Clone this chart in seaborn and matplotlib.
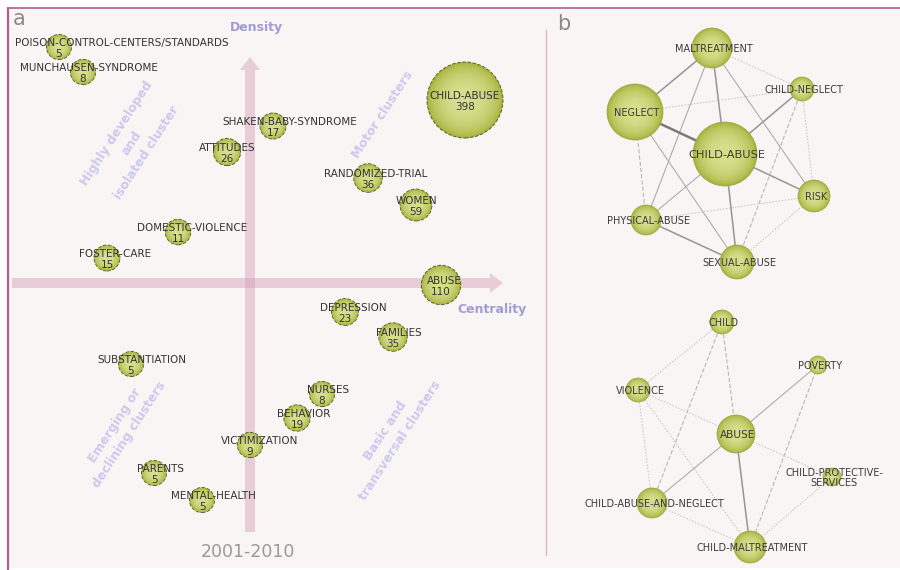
import numpy as np
import pandas as pd
import matplotlib
matplotlib.use("Agg")
import matplotlib.pyplot as plt
from matplotlib.colors import PowerNorm, to_rgb
from matplotlib.patches import FancyArrow, Rectangle
import seaborn as sns

sns.set_theme(style="white")
plt.rcParams['font.family'] = ['DejaVu Sans']

# ---- panel a: strategic diagram 2001-2010 (positions, px)
themes = ["POISON-CONTROL-CENTERS/STANDARDS", "MUNCHAUSEN-SYNDROME", "SHAKEN-BABY-SYNDROME",
          "ATTITUDES", "CHILD-ABUSE", "RANDOMIZED-TRIAL", "WOMEN", "DOMESTIC-VIOLENCE",
          "FOSTER-CARE", "SUBSTANTIATION", "ABUSE", "DEPRESSION", "FAMILIES", "NURSES",
          "BEHAVIOR", "VICTIMIZATION", "PARENTS", "MENTAL-HEALTH"]
centrality = [59, 83, 273, 227, 465, 368, 416, 178, 107, 131, 441, 345, 393, 322, 297, 250, 154, 202]
density = [47, 72, 126, 152, 100, 178, 205, 232, 258, 364, 285, 312, 337, 394, 418, 445, 473, 500]
docs = [5, 8, 17, 26, 398, 36, 59, 11, 15, 5, 110, 23, 35, 8, 19, 9, 5, 5]

# ---- panel b: thematic networks of CHILD-ABUSE and ABUSE
net_nodes = ["MALTREATMENT", "CHILD-NEGLECT", "NEGLECT", "CHILD-ABUSE", "RISK",
             "PHYSICAL-ABUSE", "SEXUAL-ABUSE",
             "CHILD", "POVERTY", "VIOLENCE", "ABUSE", "CHILD-PROTECTIVE-\nSERVICES",
             "CHILD-ABUSE-AND-NEGLECT", "CHILD-MALTREATMENT"]
net_x = [712, 802, 635, 725, 814, 646, 737, 722, 818, 638, 736, 832, 652, 750]
net_y = [48, 89, 112, 154, 196, 220, 262, 322, 365, 390, 434, 477, 503, 547]
net_freq = [400, 144, 784, 1024, 256, 225, 289, 144, 81, 144, 361, 81, 225, 256]

net_edges = [
    ("MALTREATMENT", "NEGLECT", "medium"), ("MALTREATMENT", "CHILD-ABUSE", "medium"),
    ("MALTREATMENT", "PHYSICAL-ABUSE", "weak"), ("MALTREATMENT", "RISK", "weak"),
    ("MALTREATMENT", "CHILD-NEGLECT", "dotted"), ("NEGLECT", "CHILD-ABUSE", "strong"),
    ("NEGLECT", "CHILD-NEGLECT", "dotted"), ("NEGLECT", "PHYSICAL-ABUSE", "dashed"),
    ("NEGLECT", "SEXUAL-ABUSE", "weak"), ("CHILD-ABUSE", "CHILD-NEGLECT", "medium"),
    ("CHILD-ABUSE", "RISK", "medium"), ("CHILD-ABUSE", "PHYSICAL-ABUSE", "weak"),
    ("CHILD-ABUSE", "SEXUAL-ABUSE", "medium"), ("CHILD-NEGLECT", "RISK", "dotted"),
    ("CHILD-NEGLECT", "SEXUAL-ABUSE", "dashed"), ("RISK", "PHYSICAL-ABUSE", "dotted"),
    ("RISK", "SEXUAL-ABUSE", "dotted"), ("PHYSICAL-ABUSE", "SEXUAL-ABUSE", "medium"),
    ("CHILD", "VIOLENCE", "dotted"), ("CHILD", "ABUSE", "dashed"),
    ("CHILD", "CHILD-ABUSE-AND-NEGLECT", "dashed"), ("VIOLENCE", "ABUSE", "dotted"),
    ("VIOLENCE", "CHILD-ABUSE-AND-NEGLECT", "dotted"), ("VIOLENCE", "CHILD-MALTREATMENT", "dotted"),
    ("POVERTY", "ABUSE", "weak"), ("POVERTY", "CHILD-MALTREATMENT", "dashed"),
    ("ABUSE", "CHILD-PROTECTIVE-\nSERVICES", "dotted"), ("ABUSE", "CHILD-ABUSE-AND-NEGLECT", "weak"),
    ("ABUSE", "CHILD-MALTREATMENT", "medium"),
    ("CHILD-PROTECTIVE-\nSERVICES", "CHILD-MALTREATMENT", "dotted"),
    ("CHILD-ABUSE-AND-NEGLECT", "CHILD-MALTREATMENT", "dotted"),
]

# label layout (not data)
name_dx = [63, 6, 17, 0, 0, 8, 0, 14, 8, 11, 3, 8, 6, 6, 7, 10, 6, 11]
edge_style = {"strong": dict(lw=1.8, color="#7a7a7a", ls="-"),
              "medium": dict(lw=1.1, color="#959595", ls="-"),
              "weak": dict(lw=0.75, color="#a8a8a8", ls="-"),
              "dashed": dict(lw=0.75, color="#b2b2b2", ls=(0, (4, 2))),
              "dotted": dict(lw=0.75, color="#c6c6c6", ls=(0, (1.5, 1.5)))}

fig = plt.figure(figsize=(9, 5.7), dpi=100)
fig.patch.set_facecolor("white")
ax = fig.add_axes([0, 0, 1, 1])
ax.axis("off")

ax.add_patch(Rectangle((8, 8), 892, 560, facecolor="#f9f5f4", edgecolor="none", zorder=0))
ax.plot([8, 900], [8, 8], color="#b45c92", lw=1.2, zorder=1)
ax.plot([8, 8], [8, 570], color="#b45c92", lw=1.6, zorder=1)
ax.plot([546, 546], [30, 555], color="#dcb6c8", lw=1.0, zorder=1)

# quadrant axes
arrow_kw = dict(width=10, head_width=20, head_length=13, length_includes_head=True,
                color="#d9a4bb", alpha=0.5, lw=0, zorder=1)
ax.add_patch(FancyArrow(12, 283, 491, 0, **arrow_kw))
ax.add_patch(FancyArrow(250, 532, 0, -475, **arrow_kw))

ax.text(256, 28, "Density", color="#a09cd8", fontsize=9, fontweight="bold", ha="center", va="center")
ax.text(492, 309, "Centrality", color="#a09cd8", fontsize=9, fontweight="bold", ha="center", va="center")
ax.text(248, 552, "2001-2010", color="#999999", fontsize=12.5, ha="center", va="center")
ax.text(19, 19, "a", color="#8a8a8a", fontsize=15, ha="center", va="center")
ax.text(564, 24, "b", color="#8a8a8a", fontsize=15, ha="center", va="center")

quad_kw = dict(color="#cbc9ed", fontsize=9, fontweight="bold", rotation=57,
               ha="center", va="center", multialignment="center", linespacing=1.5,
               rotation_mode="anchor", zorder=1)
ax.text(132, 143, "Highly developed\nand\nisolated cluster", **quad_kw)
ax.text(383, 115, "Motor clusters", **quad_kw)
ax.text(122, 430, "Emerging or\ndeclining clusters", **quad_kw)
ax.text(393, 436, "Basic and\ntransversal clusters", **quad_kw)

# soft radial shading: stacked circles from the rim colour to the highlight
rim, glow = np.array(to_rgb("#a7b23a")), np.array(to_rgb("#d6de8c"))
n_layers = 12
layers = [(1.0 - 0.9 * t, tuple(rim + (glow - rim) * t ** 0.7))
          for t in np.linspace(0, 1, n_layers)]

df_a = pd.DataFrame({"x": centrality, "y": density, "n": docs})
norm = PowerNorm(gamma=1.3, vmin=min(docs), vmax=max(docs))
for i, (k, col) in enumerate(layers):
    extra = dict(edgecolor="#5c6128", linewidth=0.7, linestyle="--") if i == 0 else dict(linewidth=0)
    sns.scatterplot(data=df_a, x="x", y="y", size="n", sizes=(324 * k, 2994 * k),
                    size_norm=norm, color=col, legend=False, ax=ax, zorder=3 + i * 0.01, **extra)

for name, x, y, n, dx in zip(themes, centrality, density, docs, name_dx):
    ax.text(x + dx, y - 4, name, fontsize=7.5, color="#333333", ha="center", va="center", zorder=10)
    ax.text(x, y + 7, str(n), fontsize=7.5, color="#333333", ha="center", va="center", zorder=10)

# networks of panel b
pos = {n: (x, y) for n, x, y in zip(net_nodes, net_x, net_y)}
for a, b, kind in net_edges:
    ax.plot([pos[a][0], pos[b][0]], [pos[a][1], pos[b][1]], zorder=2, **edge_style[kind])

df_b = pd.DataFrame({"x": net_x, "y": net_y, "f": net_freq})
for i, (k, col) in enumerate(layers):
    extra = dict(edgecolor="#9aa548", linewidth=0.5) if i == 0 else dict(linewidth=0)
    sns.scatterplot(data=df_b, x="x", y="y", size="f", sizes=(168 * k, 2123 * k),
                    size_norm=(min(net_freq), max(net_freq)), color=col, legend=False,
                    ax=ax, zorder=3 + i * 0.01, **extra)

for name, x, y in zip(net_nodes, net_x, net_y):
    fs = 8.2 if name == "CHILD-ABUSE" else (7.6 if name == "ABUSE" else 7.0)
    ax.text(x + 2, y + 1, name, fontsize=fs, color="#3a3a3a", ha="center", va="center",
            multialignment="center", linespacing=1.1, zorder=10)

ax.set_xlim(0, 900)
ax.set_ylim(570, 0)
fig.savefig("out.png", dpi=100, facecolor=fig.get_facecolor())
